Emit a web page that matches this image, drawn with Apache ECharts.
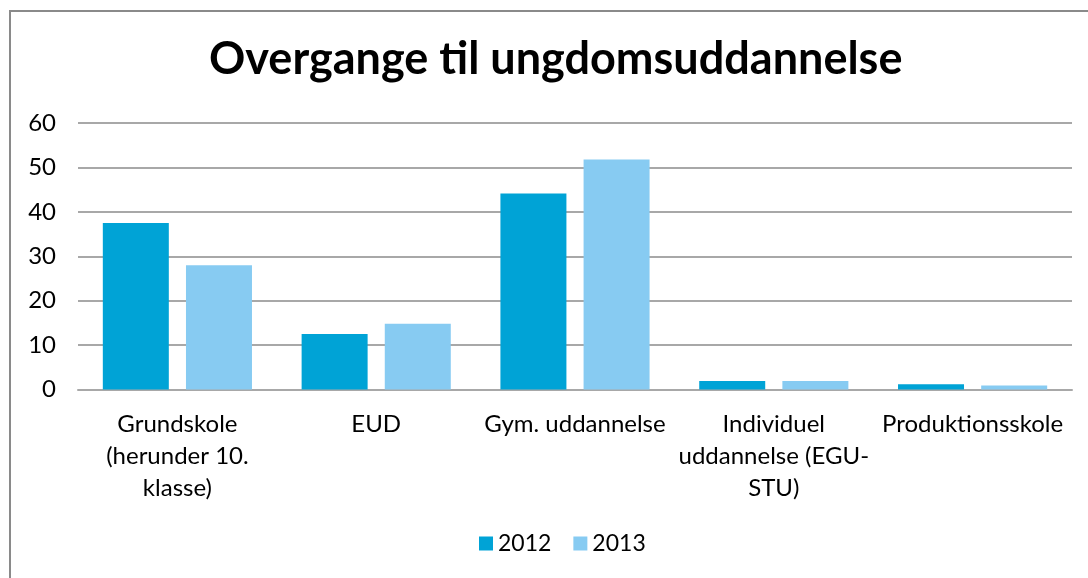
<!DOCTYPE html>
<html>
<head>
<meta charset="utf-8">
<script src="https://cdn.jsdelivr.net/npm/echarts@6/dist/echarts.min.js"></script>
<style>
html,body{margin:0;padding:0;background:#fff;}
#chart{width:1088px;height:578px;}
</style>
</head>
<body>
<div id="chart"></div>
<script>
const categories = ["Grundskole\n(herunder 10.\nklasse)", "EUD", "Gym. uddannelse", "Individuel\nuddannelse (EGU-\nSTU)", "Produktionsskole"];
const values2012 = [37.5, 12.5, 44.1, 1.9, 1.2];
const values2013 = [28.0, 14.8, 51.8, 1.9, 0.9];
const seriesNames = ["2012", "2013"];
const yTicks = [0, 10, 20, 30, 40, 50, 60];

const FONT = "Lato, Carlito, 'Open Sans', sans-serif";
const chart = echarts.init(document.getElementById('chart'));
chart.setOption({
  animation: false,
  backgroundColor: '#ffffff',
  graphic: [{
    type: 'rect',
    shape: {x: 10, y: 11, width: 1100, height: 600},
    style: {fill: 'none', stroke: '#8a8a8a', lineWidth: 2},
    silent: true
  }],
  title: {
    text: 'Overgange til ungdomsuddannelse',
    left: 204,
    top: 32,
    textStyle: {fontFamily: FONT, fontWeight: 'bold', fontSize: 45, color: '#000'}
  },
  legend: {
    data: seriesNames,
    bottom: 18,
    left: 474,
    itemWidth: 14,
    itemHeight: 14,
    itemGap: 22,
    icon: 'rect',
    textStyle: {fontFamily: FONT, fontSize: 23, color: '#000'}
  },
  grid: {left: 78, right: 16, top: 123, bottom: 188.5, containLabel: false},
  xAxis: {
    type: 'category',
    data: categories,
    axisTick: {show: false},
    axisLine: {show: true, lineStyle: {color: '#a8a8a8', width: 2}},
    axisLabel: {
      interval: 0,
      margin: 19,
      fontFamily: FONT,
      fontSize: 24,
      lineHeight: 32,
      color: '#000',
      align: 'center'
    }
  },
  yAxis: {
    type: 'value',
    min: 0,
    max: 60,
    interval: 10,
    axisLine: {show: false},
    axisTick: {show: false},
    splitLine: {lineStyle: {color: '#a8a8a8', width: 2}},
    axisLabel: {
      margin: 22,
      fontFamily: FONT,
      fontSize: 24,
      color: '#000',
      formatter: function (v) { return yTicks.indexOf(v) >= 0 ? String(v) : ''; }
    }
  },
  series: [
    {
      name: seriesNames[0],
      type: 'bar',
      data: values2012,
      barWidth: 66,
      barGap: '26%',
      itemStyle: {color: '#00A3D6'}
    },
    {
      name: seriesNames[1],
      type: 'bar',
      data: values2013,
      barWidth: 66,
      itemStyle: {color: '#87CBF2'}
    }
  ]
});
</script>
</body>
</html>
